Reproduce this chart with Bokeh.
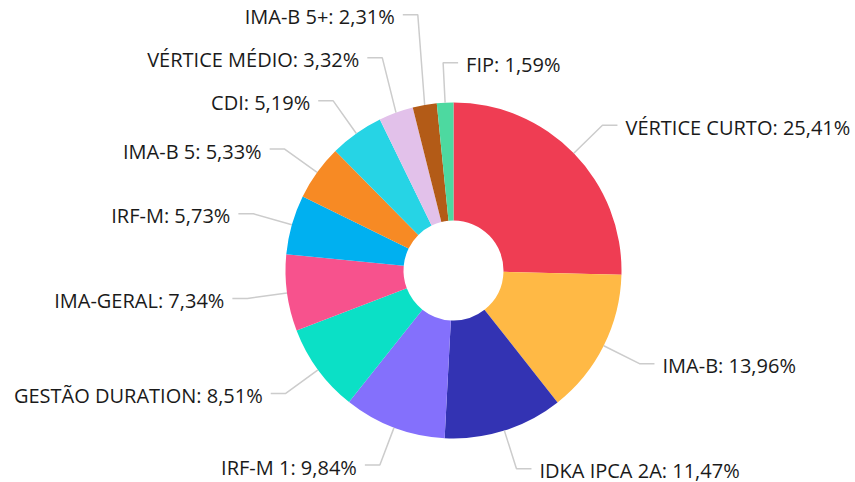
import math
from bokeh.plotting import figure
from bokeh.models import Range1d, ColumnDataSource
from bokeh.core.properties import value
from bokeh.embed import file_html
from bokeh.resources import INLINE

categories = ["VÉRTICE CURTO", "IMA-B", "IDKA IPCA 2A", "IRF-M 1", "GESTÃO DURATION",
              "IMA-GERAL", "IRF-M", "IMA-B 5", "CDI", "VÉRTICE MÉDIO", "IMA-B 5+", "FIP"]
shares = [25.41, 13.96, 11.47, 9.84, 8.51, 7.34, 5.73, 5.33, 5.19, 3.32, 2.31, 1.59]
colors = ["#EF3D53", "#FFB945", "#3333B3", "#8470FC", "#0BE0C6", "#F7528D",
          "#00B0F0", "#F78A24", "#26D4E5", "#E2C1EA", "#B35B17", "#4DD9A0"]

W, H = 855, 482
CX, CY = 453, 212
R_OUT, R_IN = 168, 50
R_KNEE = 208
SEG = 15
GAP = 8
MIN_SPACING = 43

p = figure(width=W, height=H, output_backend="svg", toolbar_location=None,
           x_range=Range1d(0, W), y_range=Range1d(0, H), min_border=0)
p.axis.visible = False
p.grid.visible = False
p.outline_line_color = None
p.background_fill_color = "white"
p.border_fill_color = "white"

total = sum(shares)
starts, ends, mids = [], [], []
acc = 0.0
for v in shares:
    a0 = acc / total * 2 * math.pi
    acc += v
    a1 = acc / total * 2 * math.pi
    starts.append(math.pi / 2 - a0)
    ends.append(math.pi / 2 - a1)
    mids.append((a0 + a1) / 2)

src = ColumnDataSource(dict(start=starts, end=ends, color=colors))
p.annular_wedge(x=CX, y=CY, inner_radius=R_IN, outer_radius=R_OUT,
                inner_radius_units="screen", outer_radius_units="screen",
                start_angle="start", end_angle="end", direction="clock",
                fill_color="color", line_color=None, source=src)

# label layout
info = []
for i, th in enumerate(mids):
    sx = CX + R_OUT * math.sin(th)
    sy = CY + R_OUT * math.cos(th)
    kx = CX + R_KNEE * math.sin(th)
    ky = CY + R_KNEE * math.cos(th)
    right = math.sin(th) > -0.08
    info.append([i, sx, sy, kx, ky, right])

left = sorted([d for d in info if not d[5]], key=lambda d: d[4])
prev = None
for d in left:
    if prev is not None and d[4] < prev + MIN_SPACING:
        d[4] = prev + MIN_SPACING
    prev = d[4]

xs, ys, tx, ty, tt, ta = [], [], [], [], [], []
for i, sx, sy, kx, ky, right in info:
    sgn = 1 if right else -1
    ex = kx + sgn * SEG
    xs.append([sx, kx, ex])
    ys.append([sy, ky, ky])
    tx.append(ex + sgn * GAP)
    ty.append(ky - 2)
    tt.append(f"{categories[i]}: " + f"{shares[i]:.2f}".replace(".", ",") + "%")
    ta.append("left" if right else "right")

p.multi_line(xs=xs, ys=ys, line_color="#cccccc", line_width=1.5)
p.text(x=tx, y=ty, text=tt, text_align=ta, text_baseline="middle",
       text_font=value("Open Sans"), text_font_size="20px", text_color="#1a1a1a")

open("out.html", "w").write(file_html(p, INLINE))
